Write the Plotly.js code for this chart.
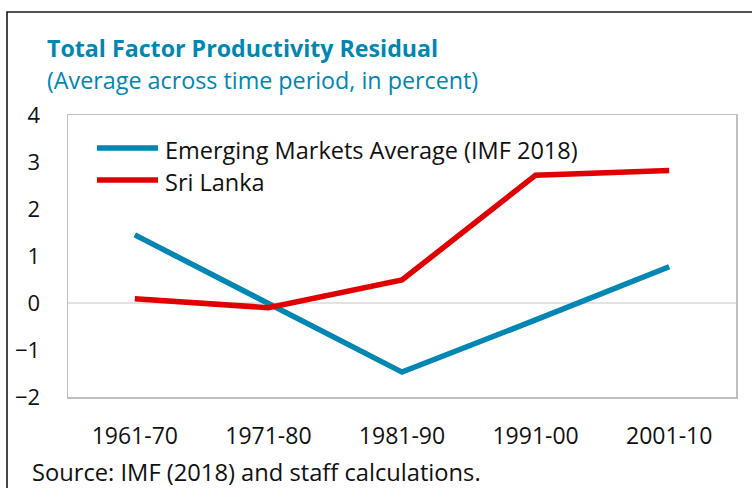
<!DOCTYPE html>
<html>
<head>
<meta charset="utf-8">
<script src="https://cdn.plot.ly/plotly-3.0.1.min.js"></script>
<style>html,body{margin:0;padding:0;background:#fff;}#chart{width:752px;height:488px;}</style>
</head>
<body>
<div id="chart"></div>
<script>
const periods = ["1961-70", "1971-80", "1981-90", "1991-00", "2001-10"];
const emergingMarkets = [1.45, 0.0, -1.47, -0.36, 0.77];
const sriLanka = [0.09, -0.1, 0.49, 2.72, 2.82];
const seriesNames = ["Emerging Markets Average (IMF 2018)", "Sri Lanka"];
const seriesColors = ["#0086B3", "#E00000"];
const yTicks = [-2, -1, 0, 1, 2, 3, 4];

const FONT = "Open Sans, Noto Sans, sans-serif";
const L = 68, R = 736, T = 115, B = 397, W = 752, H = 488;
const pw = R - L, ph = B - T;
const px = x => (x - L) / pw;
const py = y => (B - y) / ph;

const traces = [emergingMarkets, sriLanka].map((vals, i) => ({
  x: periods, y: vals, type: "scatter", mode: "lines", name: seriesNames[i],
  line: {color: seriesColors[i], width: 5.5}, showlegend: false, hoverinfo: "skip"
}));

const shapes = [
  {type: "rect", xref: "paper", yref: "paper", x0: px(7), x1: px(770), y0: py(12), y1: py(520),
   line: {color: "#1a1a1a", width: 1.6}, fillcolor: "rgba(0,0,0,0)", layer: "below"},
  {type: "line", xref: "paper", yref: "y", x0: 0, x1: 1, y0: 0, y1: 0, line: {color: "#d9d9d9", width: 1.5}, layer: "below"},
  {type: "line", xref: "paper", yref: "paper", x0: px(97), x1: px(158), y0: py(148), y1: py(148), line: {color: seriesColors[0], width: 5.5}},
  {type: "line", xref: "paper", yref: "paper", x0: px(97), x1: px(158), y0: py(180), y1: py(180), line: {color: seriesColors[1], width: 5.5}}
];

const annotations = [
  {text: "<b>Total Factor Productivity Residual</b>", xref: "paper", yref: "paper", x: px(45), y: py(48), xanchor: "left", yanchor: "middle", showarrow: false,
   font: {family: FONT, size: 23.2, color: "#0086B3"}},
  {text: "(Average across time period, in percent)", xref: "paper", yref: "paper", x: px(45), y: py(80), xanchor: "left", yanchor: "middle", showarrow: false,
   font: {family: FONT, size: 23.3, color: "#0086B3"}},
  {text: seriesNames[0], xref: "paper", yref: "paper", x: px(163), y: py(150), xanchor: "left", yanchor: "middle", showarrow: false,
   font: {family: FONT, size: 23.5, color: "#111"}},
  {text: seriesNames[1], xref: "paper", yref: "paper", x: px(163), y: py(182), xanchor: "left", yanchor: "middle", showarrow: false,
   font: {family: FONT, size: 23.5, color: "#111"}},
  {text: "Source: IMF (2018) and staff calculations.", xref: "paper", yref: "paper", x: px(30), y: py(472), xanchor: "left", yanchor: "middle", showarrow: false,
   font: {family: FONT, size: 23.7, color: "#111"}}
];

const layout = {
  width: W, height: H,
  margin: {l: L, r: W - R, t: T, b: H - B, pad: 0},
  paper_bgcolor: "#fff", plot_bgcolor: "#fff",
  font: {family: FONT, size: 22, color: "#111"},
  xaxis: {type: "category", range: [-0.5, 4.5], showgrid: false, zeroline: false,
    showline: true, mirror: true, linecolor: "#bfbfbf", linewidth: 1.5,
    ticks: "outside", ticklen: 18, tickcolor: "rgba(0,0,0,0)", tickfont: {family: FONT, size: 23, color: "#111"}, fixedrange: true},
  yaxis: {range: [-2, 4], tickvals: yTicks, showgrid: false, zeroline: false,
    showline: true, mirror: true, linecolor: "#bfbfbf", linewidth: 1.5,
    ticks: "outside", ticklen: 22, tickcolor: "rgba(0,0,0,0)", tickfont: {family: FONT, size: 22, color: "#111"}, fixedrange: true},
  shapes: shapes,
  annotations: annotations,
  showlegend: false
};

Plotly.newPlot("chart", traces, layout, {displayModeBar: false, staticPlot: true});
</script>
</body>
</html>
